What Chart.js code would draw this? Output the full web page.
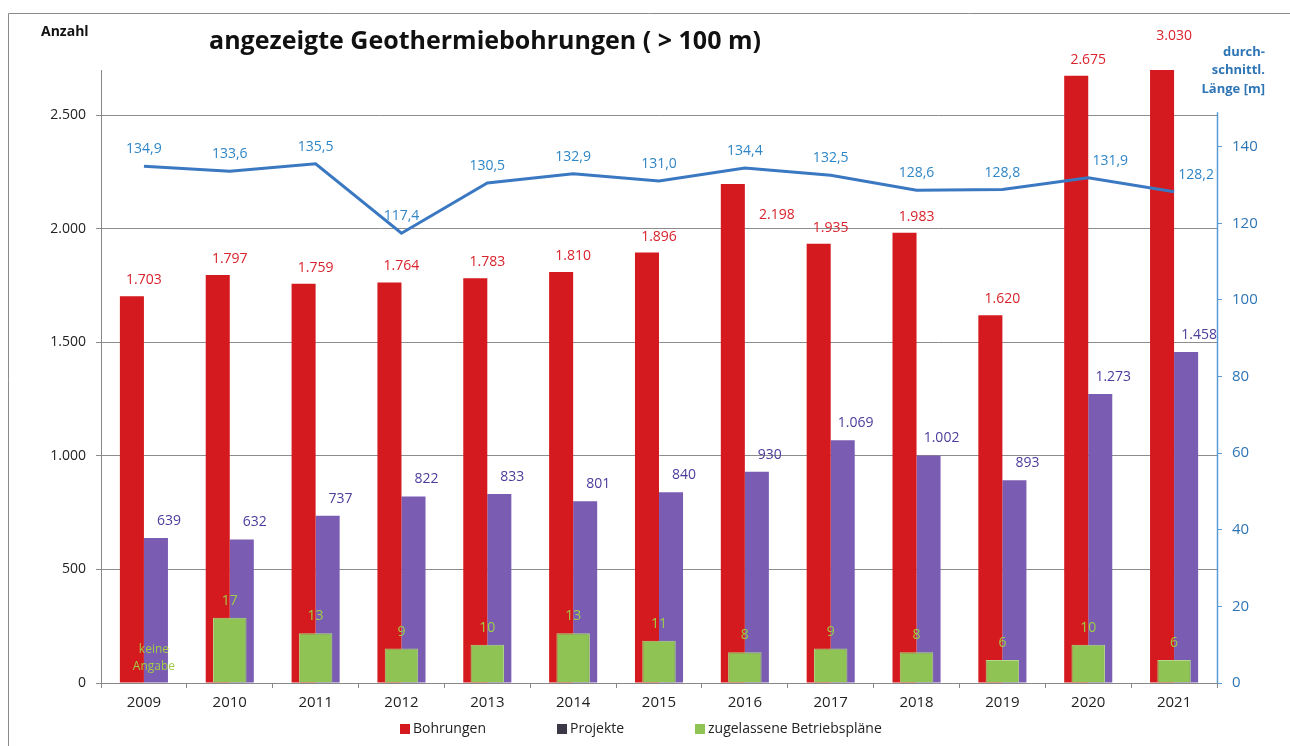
<!DOCTYPE html>
<html>
<head>
<meta charset="utf-8">
<script src="https://cdn.jsdelivr.net/npm/chart.js@4.4.0/dist/chart.umd.min.js"></script>
<style>
  body { margin: 0; background: #fff; }
  canvas { display: block; }
</style>
</head>
<body>
<canvas id="chart" width="1290" height="746"></canvas>
<script>
// Werte aus der Grafik
const years = ["2009", "2010", "2011", "2012", "2013", "2014", "2015", "2016", "2017", "2018", "2019", "2020", "2021"];
const bohrungen = [1703, 1797, 1759, 1764, 1783, 1810, 1896, 2198, 1935, 1983, 1620, 2675, 3030];
const projekte = [639, 632, 737, 822, 833, 801, 840, 930, 1069, 1002, 893, 1273, 1458];
const betriebsplaene = [null, 17, 13, 9, 10, 13, 11, 8, 9, 8, 6, 10, 6];
const laenge = [134.9, 133.6, 135.5, 117.4, 130.5, 132.9, 131.0, 134.4, 132.5, 128.6, 128.8, 131.9, 128.2];
const leftTicks = [0, 500, 1000, 1500, 2000, 2500];
const rightTicks = [0, 20, 40, 60, 80, 100, 120, 140];
const noData = ["keine", "Angabe"];

const FONT = "'Open Sans', sans-serif";
const RED = "#d41a1f";
const PURPLE = "#7a5cb3";
const GREEN = "#8fc454";
const BLUE = "#3a78c2";

function fmtDE(n) {
  return String(n).replace(/\B(?=(\d{3})+(?!\d))/g, ".");
}

// Rahmen, Titel, Achsentitel, Legende
const decor = {
  id: "decor",
  beforeDraw(chart) {
    const c = chart.ctx;
    c.save();
    c.fillStyle = "#fff";
    c.fillRect(0, 0, chart.width, chart.height);
    c.strokeStyle = "#8a8a8a";
    c.lineWidth = 1;
    c.beginPath();
    c.moveTo(8.5, chart.height);
    c.lineTo(8.5, 13.5);
    c.lineTo(chart.width, 13.5);
    c.stroke();
    c.restore();
  },
  afterDraw(chart) {
    const c = chart.ctx;
    c.save();
    c.textBaseline = "middle";
    c.fillStyle = "#111";
    c.font = "bold 25px " + FONT;
    c.textAlign = "center";
    c.fillText("angezeigte Geothermiebohrungen ( > 100 m)", 485, 42);
    c.font = "bold 14px " + FONT;
    c.textAlign = "left";
    c.fillText("Anzahl", 41, 32);
    c.fillStyle = "#2e75b6";
    c.font = "bold 13px " + FONT;
    c.textAlign = "right";
    c.fillText("durch-", 1265, 52);
    c.fillText("schnittl.", 1265, 70);
    c.fillText("Länge [m]", 1265, 89);

    // rechte Achsenlinie
    const y2 = chart.scales.y2;
    c.strokeStyle = "#5b9bd5";
    c.lineWidth = 1.5;
    c.beginPath();
    c.moveTo(y2.left + 0.5, y2.getPixelForValue(149));
    c.lineTo(y2.left + 0.5, chart.chartArea.bottom);
    c.stroke();

    // Legende
    const items = [
      { text: "Bohrungen", color: RED, x: 400 },
      { text: "Projekte", color: "#3c3848", x: 557 },
      { text: "zugelassene Betriebspläne", color: GREEN, x: 695 }
    ];
    c.font = "14px " + FONT;
    c.textAlign = "left";
    items.forEach(it => {
      c.fillStyle = it.color;
      c.fillRect(it.x, 724, 10, 10);
      c.fillStyle = "#222";
      c.fillText(it.text, it.x + 13, 729);
    });
    c.restore();
  }
};

// Datenbeschriftungen
const valueLabels = {
  id: "valueLabels",
  afterDatasetsDraw(chart) {
    const c = chart.ctx;
    const area = chart.chartArea;
    const xs = chart.scales.x;
    const redMeta = chart.getDatasetMeta(0);
    const purMeta = chart.getDatasetMeta(1);
    const grnMeta = chart.getDatasetMeta(2);
    const lineMeta = chart.getDatasetMeta(3);
    c.save();
    c.textAlign = "center";
    c.textBaseline = "middle";
    c.font = "14px " + FONT;

    years.forEach((yr, i) => {
      const cx = xs.getPixelForValue(i);
      const lineY = lineMeta.data[i].y;

      // Bohrungen
      const rb = redMeta.data[i];
      const top = Math.max(rb.y, area.top - 18);
      let lx = cx, ly = top - 16;
      if (Math.abs(ly - lineY) < 22) {
        lx = cx + 32;
        ly = top + 31;
      }
      c.fillStyle = "#d9232d";
      c.fillText(fmtDE(bohrungen[i]), lx, ly);

      // Projekte
      const pb = purMeta.data[i];
      c.fillStyle = "#4b3c9c";
      c.fillText(fmtDE(projekte[i]), cx + 25, pb.y - 17);

      // Betriebspläne
      c.fillStyle = "#9fcd45";
      if (betriebsplaene[i] === null) {
        c.font = "12px " + FONT;
        c.fillText(noData[0], cx + 10, 650);
        c.fillText(noData[1], cx + 10, 667);
        c.font = "14px " + FONT;
      } else {
        const gb = grnMeta.data[i];
        c.fillText(String(betriebsplaene[i]), cx, gb.y - 17);
      }

      // Länge
      const lp = lineMeta.data[i];
      let tx = lp.x, ty = lp.y - 17;
      if (ty + 8 > Math.max(rb.y, area.top)) tx = lp.x + 22;
      c.fillStyle = "#2f86c6";
      c.fillText(laenge[i].toFixed(1).replace(".", ","), tx, ty);
    });
    c.restore();
  }
};

const ctx = document.getElementById("chart").getContext("2d");
const chart = new Chart(ctx, {
  data: {
    labels: years,
    datasets: [
      {
        type: "bar",
        label: "Bohrungen",
        data: bohrungen,
        backgroundColor: RED,
        yAxisID: "y",
        categoryPercentage: 0.56,
        barPercentage: 1,
        clip: 0,
        order: 3
      },
      {
        type: "bar",
        label: "Projekte",
        data: projekte,
        backgroundColor: PURPLE,
        yAxisID: "y",
        categoryPercentage: 0.56,
        barPercentage: 1,
        clip: 0,
        order: 3
      },
      {
        type: "bar",
        label: "zugelassene Betriebspläne",
        data: betriebsplaene,
        backgroundColor: GREEN,
        borderColor: "#b3d88a",
        borderWidth: 1,
        borderSkipped: "bottom",
        yAxisID: "y2",
        grouped: false,
        categoryPercentage: 1,
        barPercentage: 0.39,
        order: 2
      },
      {
        type: "line",
        label: "durchschnittl. Länge",
        data: laenge,
        borderColor: BLUE,
        borderWidth: 3,
        pointRadius: 0,
        tension: 0,
        yAxisID: "y2",
        order: 1
      }
    ]
  },
  options: {
    responsive: false,
    animation: false,
    layout: { padding: { top: 70, left: 0, right: 0, bottom: 0 } },
    plugins: {
      legend: { display: false },
      tooltip: { enabled: false }
    },
    scales: {
      x: {
        type: "category",
        offset: true,
        grid: { offset: true, drawOnChartArea: false, tickLength: 5, color: "#888" },
        border: { color: "#888" },
        ticks: { color: "#222", font: { family: FONT, size: 15 }, padding: 6 },
        afterFit(s) { s.height = 63; }
      },
      y: {
        position: "left",
        min: 0,
        max: 2700,
        afterBuildTicks(s) { s.ticks = leftTicks.map(v => ({ value: v })); },
        ticks: {
          color: "#222",
          font: { family: FONT, size: 14 },
          padding: 10,
          callback: v => fmtDE(v)
        },
        grid: { color: "#8c8c8c", tickLength: 5 },
        border: { color: "#888" },
        afterFit(s) { s.width = 101; }
      },
      y2: {
        position: "right",
        min: 0,
        max: 160,
        afterBuildTicks(s) { s.ticks = rightTicks.map(v => ({ value: v })); },
        ticks: { color: "#2e75b6", font: { family: FONT, size: 15 }, padding: 10 },
        grid: { drawOnChartArea: false, color: "#5b9bd5", tickLength: 5 },
        border: { display: false },
        afterFit(s) { s.width = 73; }
      }
    }
  },
  plugins: [decor, valueLabels]
});
</script>
</body>
</html>
